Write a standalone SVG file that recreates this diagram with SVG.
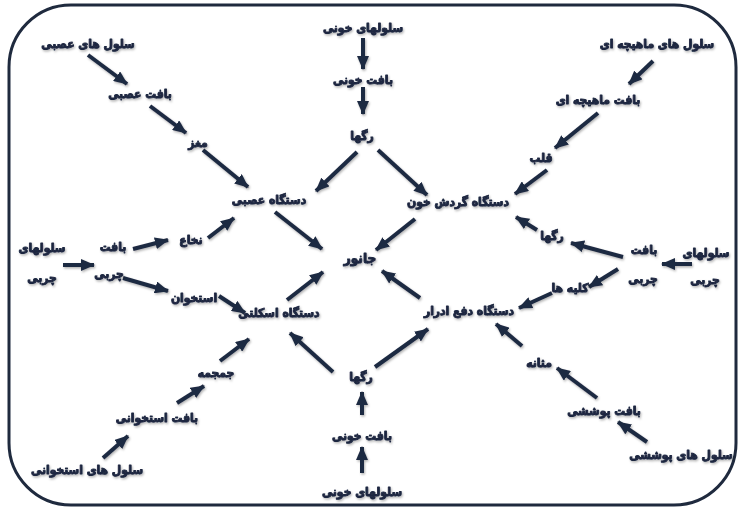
<svg xmlns="http://www.w3.org/2000/svg" width="741" height="510" viewBox="0 0 741 510">
<defs>
<marker id="ah" viewBox="0 0 14 12" refX="13" refY="6" markerWidth="14" markerHeight="12" markerUnits="userSpaceOnUse" orient="auto">
<path d="M0,0 L14,6 L0,12 z" fill="#1f2a42"/>
</marker>
<filter id="sh" x="-20%" y="-20%" width="140%" height="140%">
<feDropShadow dx="1" dy="1.5" stdDeviation="1" flood-color="#000" flood-opacity="0.3"/>
</filter>
</defs>
<style>
text{font-family:"DejaVu Sans Condensed","DejaVu Sans",sans-serif;font-weight:bold;font-size:12px;fill:#1c2640;stroke:#1c2640;stroke-width:0.9;stroke-linejoin:round;text-anchor:middle;dominant-baseline:central;direction:rtl}
.big{font-size:13.5px}
.c line{stroke:#1f2a42;stroke-width:4;marker-end:url(#ah)}
</style>
<rect width="741" height="510" fill="#fff"/>
<rect x="9" y="5" width="727" height="500" rx="62" ry="62" fill="#fff" stroke="#1f2a3e" stroke-width="3"/>
<g class="c" filter="url(#sh)">
<line x1="88" y1="55" x2="127" y2="84"/>
<line x1="150" y1="106" x2="186" y2="133"/>
<line x1="203" y1="150" x2="248" y2="187"/>
<line x1="363" y1="38" x2="363" y2="69"/>
<line x1="363" y1="87" x2="363" y2="114"/>
<line x1="357" y1="152" x2="316" y2="191"/>
<line x1="378" y1="150" x2="427" y2="195"/>
<line x1="653" y1="61" x2="629" y2="84"/>
<line x1="598" y1="113" x2="555" y2="148"/>
<line x1="547" y1="170" x2="515" y2="194"/>
<line x1="275" y1="212" x2="322" y2="249"/>
<line x1="415" y1="219" x2="376" y2="250"/>
<line x1="287" y1="300" x2="323" y2="272"/>
<line x1="420" y1="298" x2="382" y2="271"/>
<line x1="63" y1="265" x2="94" y2="265"/>
<line x1="133" y1="249" x2="168" y2="240"/>
<line x1="208" y1="238" x2="234" y2="218"/>
<line x1="123" y1="278" x2="168" y2="291"/>
<line x1="219" y1="296" x2="245" y2="313"/>
<line x1="537" y1="230" x2="516" y2="217"/>
<line x1="623" y1="257" x2="571" y2="243"/>
<line x1="692" y1="264" x2="662" y2="264"/>
<line x1="618" y1="269" x2="589" y2="287"/>
<line x1="552" y1="293" x2="519" y2="308"/>
<line x1="522" y1="346" x2="496" y2="324"/>
<line x1="220" y1="361" x2="249" y2="339"/>
<line x1="177" y1="403" x2="204" y2="386"/>
<line x1="103" y1="458" x2="128" y2="436"/>
<line x1="333" y1="372" x2="290" y2="333"/>
<line x1="375" y1="367" x2="428" y2="329"/>
<line x1="362" y1="415" x2="362" y2="392"/>
<line x1="362" y1="473" x2="362" y2="447"/>
<line x1="597" y1="398" x2="557" y2="368"/>
<line x1="647" y1="442" x2="618" y2="422"/>
</g>
<g filter="url(#sh)">
<g id="n1"><text x="88" y="44">سلول های عصبی</text></g>
<g id="n2"><text x="140" y="94">بافت عصبی</text></g>
<g id="n3"><text x="198" y="143">مغز</text></g>
<g id="n4"><text x="363" y="28">سلولهای خونی</text></g>
<g id="n5"><text x="363" y="80">بافت خونی</text></g>
<g id="n6"><text x="362" y="136">رگها</text></g>
<g id="n7"><text x="657" y="44">سلول های ماهیچه ای</text></g>
<g id="n8"><text x="598" y="100">بافت ماهیچه ای</text></g>
<g id="n9"><text x="541" y="158">قلب</text></g>
<g id="n10"><text x="269" y="200">دستگاه عصبی</text></g>
<g id="n11"><text x="458" y="202">دستگاه گردش خون</text></g>
<g id="n12"><text x="42" y="248">سلولهای</text><text x="42" y="278">چربی</text></g>
<g id="n13"><text x="113" y="247">بافت</text><text x="109" y="274">چربی</text></g>
<g id="n14"><text x="191" y="240">نخاع</text></g>
<g id="n15"><text x="194" y="298">استخوان</text></g>
<g id="n16"><text class="big" x="360" y="258">جانور</text></g>
<g id="n17"><text x="279" y="313">دستگاه اسکلتی</text></g>
<g id="n18"><text x="469" y="311">دستگاه دفع ادرار</text></g>
<g id="n19"><text x="552" y="236">رگها</text></g>
<g id="n20"><text x="644" y="250">بافت</text><text x="643" y="279">چربی</text></g>
<g id="n21"><text x="706" y="253">سلولهای</text><text x="705" y="280">چربی</text></g>
<g id="n22"><text x="570" y="288">کلیه ها</text></g>
<g id="n23"><text x="216" y="373">جمجمه</text></g>
<g id="n24"><text x="539" y="363">مثانه</text></g>
<g id="n25"><text x="157" y="418">بافت استخوانی</text></g>
<g id="n26"><text x="604" y="411">بافت پوششی</text></g>
<g id="n27"><text x="87" y="470">سلول های استخوانی</text></g>
<g id="n28"><text x="361" y="377">رگها</text></g>
<g id="n29"><text x="362" y="436">بافت خونی</text></g>
<g id="n30"><text x="362" y="492">سلولهای خونی</text></g>
<g id="n31"><text x="681" y="455">سلول های پوششی</text></g>
</g>
</svg>
